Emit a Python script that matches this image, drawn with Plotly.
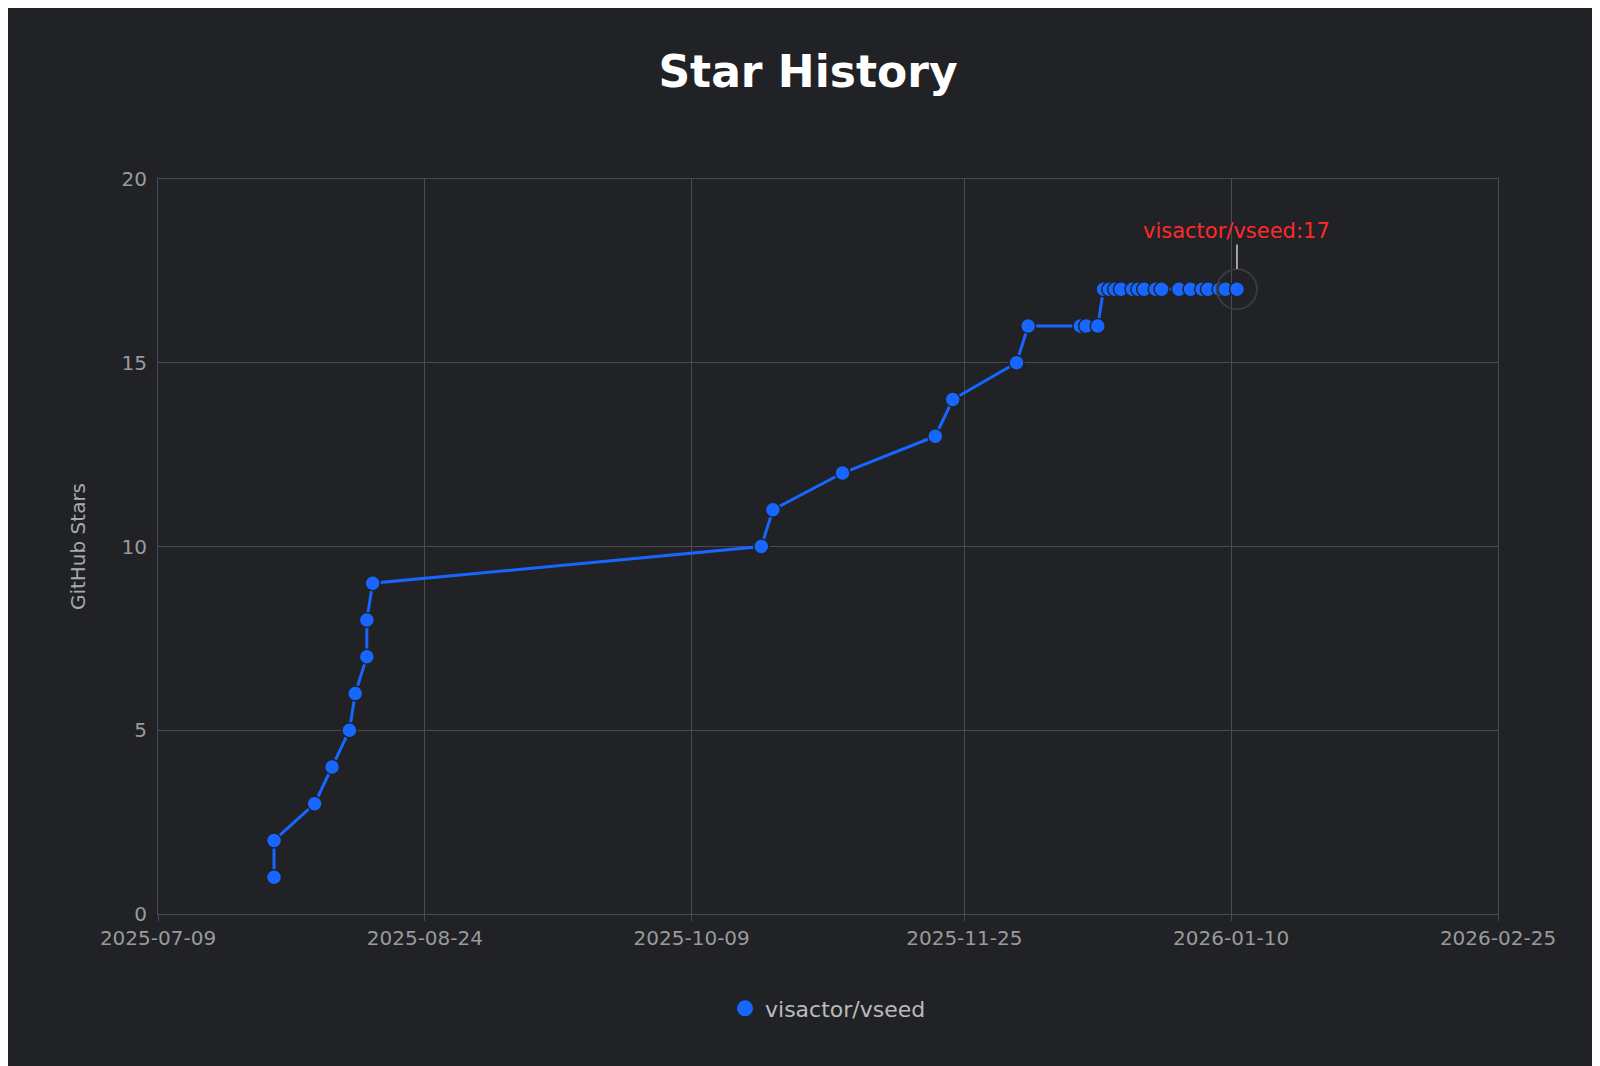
import plotly.graph_objects as go

dates = ["2025-07-29","2025-07-29","2025-08-05","2025-08-08","2025-08-11","2025-08-12","2025-08-14","2025-08-14","2025-08-15",
         "2025-10-21","2025-10-23","2025-11-04","2025-11-20","2025-11-23","2025-12-04","2025-12-06",
         "2025-12-15","2025-12-16","2025-12-18",
         "2025-12-19","2025-12-20","2025-12-21","2025-12-22","2025-12-24","2025-12-25","2025-12-26","2025-12-28","2025-12-29",
         "2026-01-01","2026-01-03","2026-01-05","2026-01-06","2026-01-08","2026-01-09","2026-01-11"]
stars = [1,2,3,4,5,6,7,8,9,10,11,12,13,14,15,16,16,16,16,
         17,17,17,17,17,17,17,17,17,17,17,17,17,17,17,17]
series_name = "visactor/vseed"
x_ticks = ["2025-07-09","2025-08-24","2025-10-09","2025-11-25","2026-01-10","2026-02-25"]

bg = "#212226"
grid = "#4a4b50"
blue = "#1766ff"
fig = go.Figure()
fig.add_trace(go.Scatter(x=dates, y=stars, mode="lines+markers", name=series_name, showlegend=False,
                         line=dict(color=blue, width=3),
                         marker=dict(size=15, color=blue, line=dict(color=bg, width=1.5))))
fig.add_trace(go.Scatter(x=[None], y=[None], mode="markers", name=series_name,
                         marker=dict(size=20, color=blue)))
fig.add_trace(go.Scatter(x=[dates[-1]], y=[stars[-1]], mode="markers", showlegend=False, hoverinfo="skip",
                         marker=dict(size=40, color="rgba(0,0,0,0)", line=dict(color="#3a3b40", width=2))))
fig.add_annotation(x=dates[-1], y=stars[-1] + 0.55, text=f"{series_name}:{stars[-1]}", showarrow=True,
                   ax=0, ay=-38, arrowhead=0, arrowcolor="#cccccc", arrowwidth=1.5,
                   font=dict(color="#ff2a2a", size=21))
fig.update_layout(
    width=1600, height=1066, paper_bgcolor=bg, plot_bgcolor=bg,
    font=dict(family="DejaVu Sans", color="#9a9a9a", size=20),
    title=dict(text="<b>Star History</b>", x=0.5, y=0.955, xanchor="center", font=dict(size=44, color="white")),
    margin=dict(l=150, r=110, t=171, b=160),
    xaxis=dict(type="date", range=[x_ticks[0], x_ticks[-1]], tickvals=x_ticks, ticktext=x_ticks,
               showgrid=True, gridcolor=grid, linecolor=grid, mirror=True, ticks="outside", tickcolor=grid,
               ticklen=6, zeroline=False),
    yaxis=dict(range=[0, 20], tickvals=[0,5,10,15,20], showgrid=True, gridcolor=grid, linecolor=grid,
               mirror=True, zeroline=False, ticks="outside", ticklen=6, tickcolor=bg,
               title=dict(text="GitHub Stars", standoff=30, font=dict(color="#aaaaaa", size=20))),
    legend=dict(orientation="h", x=0.5, xanchor="center", y=-0.1, yanchor="top", font=dict(color="#bbbbbb", size=22)),
)
fig.write_html("out.html")
